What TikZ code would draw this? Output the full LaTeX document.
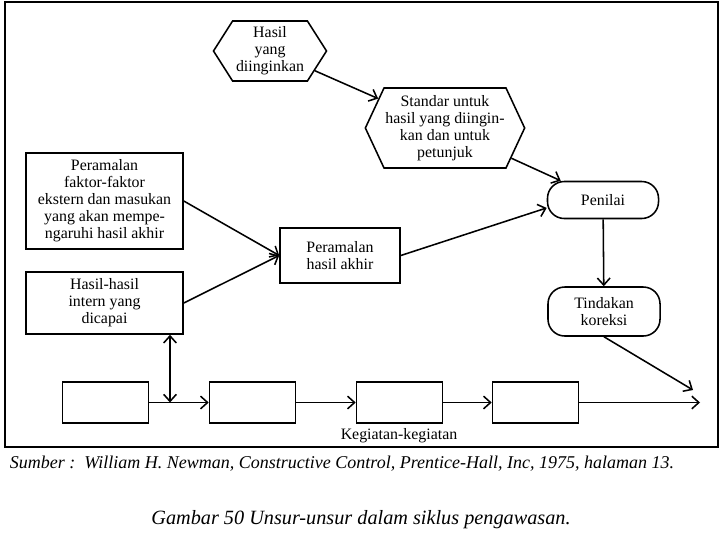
\documentclass[tikz,border=0pt]{standalone}
\usepackage{fontspec}
\setmainfont{Liberation Serif}
\usetikzlibrary{arrows.meta, shapes.symbols}

\begin{document}
\begin{tikzpicture}[x=0.025cm, y=-0.025cm,
    every node/.style={font=\fontsize{11.3}{12.1}\selectfont, align=center},
    conn/.style={line width=1.1pt, -{Straight Barb[length=5pt,width=9pt]}},
    hexa/.style={draw, line width=1.1pt, signal, signal to=east and west, inner sep=1pt},
    box/.style={draw, line width=1.1pt, rectangle, inner sep=2pt},
    pill/.style={draw, line width=1.1pt, rectangle, rounded corners=0.42cm, inner sep=2pt}]
    \useasboundingbox (0,0) rectangle (720,540);

    % outer frame
    \draw[line width=1.3pt] (5,2) rectangle (718,447);

    % ---------- desired results and standards ----------
    \node[hexa, signal pointer angle=115, minimum width=2.825cm, minimum height=1.5cm] (hasil) at (270,51) {Hasil\\yang\\diinginkan};
    \node[hexa, signal pointer angle=130, minimum width=3.9cm, minimum height=2cm] (standar) at (445,128) {Standar untuk\\hasil yang diingin-\\kan dan untuk\\petunjuk};

    % ---------- forecasts ----------
    \node[box, minimum width=3.925cm, minimum height=2.4cm] (faktor) at (104.5,201) {Peramalan\\faktor-faktor\\ekstern dan masukan\\yang akan mempe-\\ngaruhi hasil akhir};
    \node[box, minimum width=3.925cm, minimum height=1.55cm] (intern) at (104.5,303) {Hasil-hasil\\intern yang\\dicapai};
    \node[box, minimum width=3cm, minimum height=1.375cm] (ramal) at (340,255.5) {Peramalan\\hasil akhir};

    % ---------- appraisal and correction ----------
    \node[pill, minimum width=2.775cm, minimum height=0.925cm] (penilai) at (603,200) {Penilai};
    \node[pill, minimum width=2.8cm, minimum height=1.225cm] (koreksi) at (604,311.5) {Tindakan\\koreksi};

    % ---------- activities ----------
    \node[box, minimum width=2.15cm, minimum height=1.025cm] (keg1) at (105.5,402.5) {};
    \node[box, minimum width=2.15cm, minimum height=1.025cm] (keg2) at (252.5,402.5) {};
    \node[box, minimum width=2.15cm, minimum height=1.025cm] (keg3) at (399.5,402.5) {};
    \node[box, minimum width=2.15cm, minimum height=1.025cm] (keg4) at (535.5,402.5) {};
    \node (kegiatan) at (399,436) {Kegiatan-kegiatan};
    \coordinate (ujung) at (700,402.5);
    \coordinate (cabang) at (170,402.5);
    \coordinate (akhir) at (693,390);

    % connectors
    \draw[conn] (hasil) -- (standar);
    \draw[conn] (standar) -- (penilai);
    \draw[conn] (faktor.east) -- (ramal.west);
    \draw[conn] (intern.east) -- (ramal.west);
    \draw[conn] (ramal.east) -- (penilai.188);
    \draw[conn] (penilai) -- (koreksi);
    \draw[conn] (koreksi.south) -- (akhir);
    \draw[conn] (keg1) -- (keg2);
    \draw[conn] (keg2) -- (keg3);
    \draw[conn] (keg3) -- (keg4);
    \draw[conn] (keg4) -- (ujung);
    \draw[conn, {Straight Barb[length=5pt,width=9pt]}-{Straight Barb[length=5pt,width=9pt]}] (intern.south -| cabang) -- (cabang);

    % ---------- captions ----------
    \node[anchor=west, font=\fontsize{12.8}{14}\selectfont\itshape] (sumber) at (5,464) {Sumber :\ \ William H. Newman, Constructive Control, Prentice-Hall, Inc, 1975, halaman 13.};
    \node[font=\fontsize{14.4}{16}\selectfont\itshape] (judul) at (361,520) {Gambar 50 Unsur-unsur dalam siklus pengawasan.};
\end{tikzpicture}
\end{document}
